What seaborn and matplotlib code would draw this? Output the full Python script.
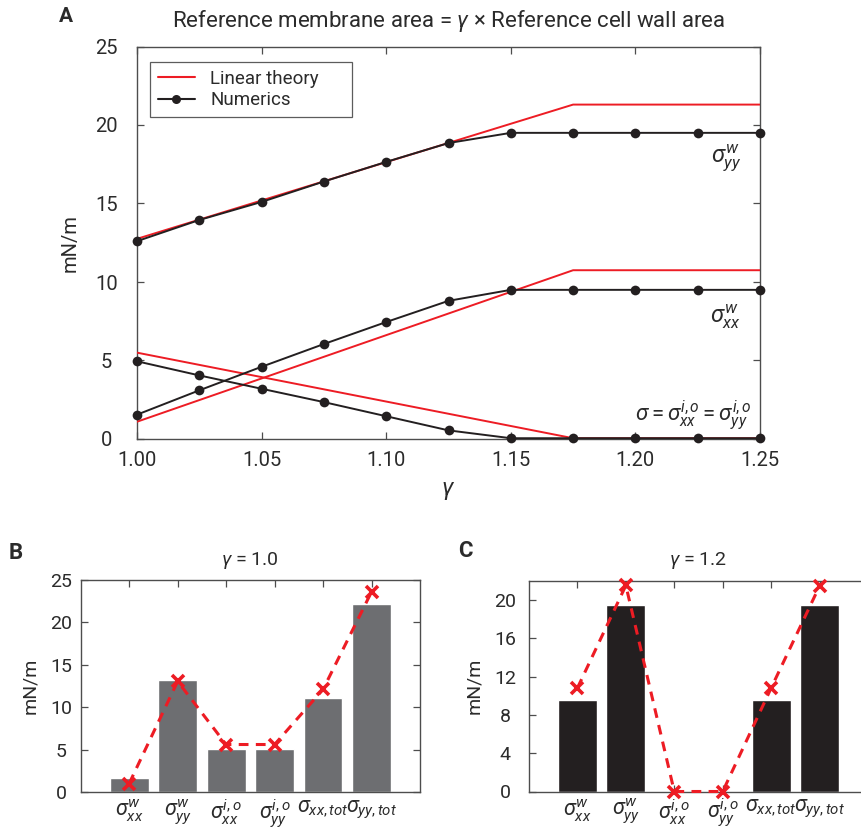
import matplotlib
matplotlib.use("Agg")
import matplotlib.pyplot as plt
import seaborn as sns
from matplotlib.lines import Line2D

sns.set_theme(style="white")
plt.rcParams['font.family'] = ['Roboto', 'DejaVu Sans']
plt.rcParams['font.weight'] = 'normal'
plt.rcParams['mathtext.fontset'] = 'custom'
plt.rcParams['mathtext.rm'] = 'Roboto'
plt.rcParams['mathtext.it'] = 'Roboto:italic'
plt.rcParams['mathtext.bf'] = 'Roboto:bold'

# ---------------- data ----------------
gamma_num = [1.00, 1.025, 1.05, 1.075, 1.10, 1.125, 1.15, 1.175, 1.20, 1.225, 1.25]
num_syy_w = [12.6, 13.95, 15.1, 16.4, 17.65, 18.85, 19.5, 19.5, 19.5, 19.5, 19.5]
num_sxx_w = [1.55, 3.1, 4.6, 6.05, 7.45, 8.8, 9.5, 9.5, 9.5, 9.5, 9.5]
num_sigma = [4.95, 4.05, 3.2, 2.35, 1.45, 0.55, 0.05, 0.05, 0.05, 0.05, 0.05]

gamma_lin = [1.00, 1.175, 1.25]
lin_syy_w = [12.75, 21.3, 21.3]
lin_sxx_w = [1.1, 10.75, 10.75]
lin_sigma = [5.5, 0.05, 0.05]

bar_labels = [r'$\sigma^{w}_{xx}$', r'$\sigma^{w}_{yy}$', r'$\sigma^{i,o}_{xx}$',
              r'$\sigma^{i,o}_{yy}$', r'$\sigma_{xx,tot}$', r'$\sigma_{yy,tot}$']
b_bars = [1.7, 13.15, 5.05, 5.05, 11.05, 22.15]
b_theory = [1.0, 13.05, 5.6, 5.6, 12.1, 23.6]
c_bars = [9.6, 19.5, 0.0, 0.0, 9.6, 19.5]
c_theory = [10.8, 21.5, 0.0, 0.0, 10.8, 21.45]

RED = '#ed1c24'
BLACK = '#231f20'
GRAY = '#6d6e71'
SPINE = '#4d4d4d'
TXT = '#2b2b2b'

W, H = 862, 832
fig = plt.figure(figsize=(W / 100, H / 100), dpi=100)

def style_axes(ax, fs, ypad):
    for s in ax.spines.values():
        s.set_color(SPINE)
        s.set_linewidth(1.0)
        s.set_visible(True)
    ax.tick_params(direction='in', length=5, width=0.9, color=SPINE,
                   top=True, right=True, left=True, bottom=True,
                   labelsize=fs, labelcolor=TXT)
    ax.tick_params(axis='y', pad=ypad)

def center_ylabels(ax):
    for lab in ax.get_yticklabels():
        lab.set_ha('center')

# ---------------- Panel A ----------------
axA = fig.add_axes([137 / W, 1 - 439 / H, (760 - 137) / W, (439 - 46.5) / H])
for yl, yn in [(lin_syy_w, num_syy_w), (lin_sxx_w, num_sxx_w), (lin_sigma, num_sigma)]:
    sns.lineplot(x=gamma_lin, y=yl, ax=axA, color=RED, lw=1.4, zorder=3)
    sns.lineplot(x=gamma_num, y=yn, ax=axA, color=BLACK, lw=1.4, marker='o',
                 markersize=7, markeredgewidth=0, zorder=4, clip_on=False)
axA.set_xlim(1.0, 1.25)
axA.set_ylim(0, 25)
axA.set_xticks([1.00, 1.05, 1.10, 1.15, 1.20, 1.25])
axA.set_xticklabels(['1.00', '1.05', '1.10', '1.15', '1.20', '1.25'])
axA.set_yticks([0, 5, 10, 15, 20, 25])
style_axes(axA, 14.5, 22)
axA.tick_params(axis='x', pad=9)
center_ylabels(axA)
axA.set_xlabel(r'$\gamma$', fontsize=17, color=TXT, labelpad=6)
axA.set_ylabel('mN/m', fontsize=14.5, color=TXT, labelpad=11)
axA.set_title(r'Reference membrane area = $\gamma$ × Reference cell wall area',
              fontsize=16, color=TXT, pad=14)
handles = [Line2D([], [], color=RED, lw=1.5),
           Line2D([], [], color=BLACK, lw=1.5, marker='o', markersize=6.5, markeredgewidth=0)]
leg = axA.legend(handles, ['Linear theory', 'Numerics'], loc='upper left',
                 bbox_to_anchor=(0.0209, 0.0, 0.3242, 0.9605), mode='expand',
                 fontsize=13.5, frameon=True,
                 fancybox=False, edgecolor='#333333', handlelength=2.0,
                 handletextpad=0.8, borderpad=0.4, labelspacing=0.2,
                 borderaxespad=0)
leg.get_frame().set_linewidth(0.9)
for t in leg.get_texts():
    t.set_color(TXT)
axA.text(1.2425, 17.9, r'$\sigma^{w}_{yy}$', fontsize=17, color=TXT, ha='right', va='center')
axA.text(1.2425, 7.8, r'$\sigma^{w}_{xx}$', fontsize=17, color=TXT, ha='right', va='center')
axA.text(1.2465, 1.5, r'$\sigma = \sigma^{i,o}_{xx} = \sigma^{i,o}_{yy}$', fontsize=16,
         color=TXT, ha='right', va='center')
fig.text(66 / W, 1 - 16 / H, 'A', fontsize=15, fontweight='bold', color=TXT,
         ha='center', va='center')

# ---------------- Panel B ----------------
axB = fig.add_axes([80.7 / W, 1 - 792 / H, (420 - 80.7) / W, (792 - 580) / H])
sns.barplot(x=list(range(6)), y=b_bars, ax=axB, color=GRAY, width=0.8,
            saturation=1, native_scale=True, zorder=2)
axB.plot(list(range(6)), b_theory, color=RED, ls=(0, (3.2, 2.4)), lw=2.2,
         marker='x', markersize=9, markeredgewidth=2.6, zorder=5, clip_on=False)
axB.set_xlim(-1, 6)
axB.set_ylim(0, 25)
axB.set_yticks([0, 5, 10, 15, 20, 25])
axB.set_xticks(list(range(6)))
axB.set_xticklabels(bar_labels)
style_axes(axB, 14, 14)
center_ylabels(axB)
axB.tick_params(axis='x', labelsize=15.5, pad=4)
axB.set_ylabel('mN/m', fontsize=14, color=TXT, labelpad=8)
axB.set_xlabel('')
axB.set_title(r'$\gamma$ = 1.0', fontsize=14, color=TXT, pad=11)
fig.text(16 / W, 1 - 553 / H, 'B', fontsize=16, fontweight='bold', color=TXT,
         ha='center', va='center')

# ---------------- Panel C ----------------
axC = fig.add_axes([529 / W, 1 - 791.5 / H, (868 - 529) / W, (791.5 - 580.7) / H])
sns.barplot(x=list(range(6)), y=c_bars, ax=axC, color=BLACK, width=0.8,
            saturation=1, native_scale=True, zorder=2)
axC.plot(list(range(6)), c_theory, color=RED, ls=(0, (3.2, 2.4)), lw=2.2,
         marker='x', markersize=9, markeredgewidth=2.6, zorder=5, clip_on=False)
axC.set_xlim(-1, 6)
axC.set_ylim(0, 22)
axC.set_yticks([0, 4, 8, 12, 16, 20])
axC.set_xticks(list(range(6)))
axC.set_xticklabels(bar_labels)
style_axes(axC, 14, 17)
center_ylabels(axC)
axC.tick_params(axis='x', labelsize=15.5, pad=4)
axC.set_ylabel('mN/m', fontsize=14, color=TXT, labelpad=8)
axC.set_xlabel('')
axC.set_title(r'$\gamma$ = 1.2', fontsize=14, color=TXT, pad=11)
fig.text(465 / W, 1 - 551 / H, 'C', fontsize=16, fontweight='bold', color=TXT,
         ha='center', va='center')

fig.savefig('out.png', dpi=100)
